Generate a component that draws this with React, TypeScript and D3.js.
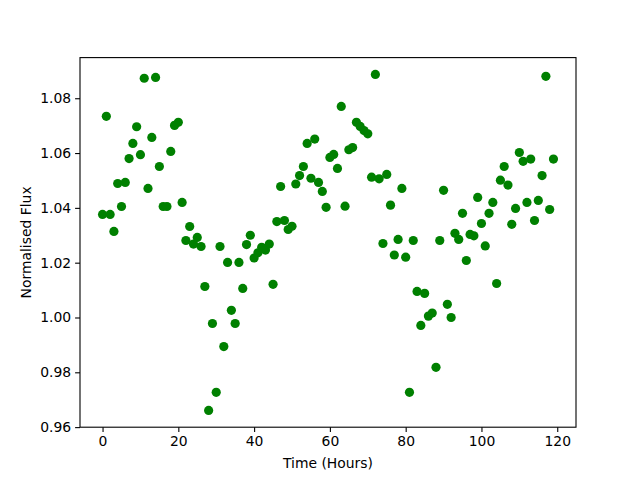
import { useEffect, useRef } from "react";
import * as d3 from "d3";

// hourly samples, 0..119
const hours = d3.range(0, 120);

const flux = [
  1.0376, 1.0734, 1.0376, 1.0314, 1.0489, 1.0405, 1.0493, 1.058, 1.0635, 1.0696,
  1.0594, 1.0873, 1.0471, 1.0657, 1.0876, 1.0551, 1.0405, 1.0405, 1.0606, 1.0701,
  1.0712, 1.042, 1.0281, 1.0332, 1.0268, 1.0292, 1.0259, 1.0113, 0.9661, 0.9978,
  0.9727, 1.0259, 0.9894, 1.0201, 1.0026, 0.9978, 1.0201, 1.0106, 1.0266, 1.03,
  1.0217, 1.0236, 1.0256, 1.0246, 1.0268, 1.0121, 1.035, 1.0478, 1.0354, 1.0321,
  1.0333, 1.0487, 1.0518, 1.0551, 1.0635, 1.0508, 1.0651, 1.0493, 1.046, 1.0402,
  1.0584, 1.0595, 1.0544, 1.077, 1.0406, 1.0612, 1.062, 1.0712, 1.0697, 1.0682,
  1.067, 1.0512, 1.0887, 1.0506, 1.027, 1.0522, 1.041, 1.0228, 1.0285, 1.0471,
  1.022, 0.9727, 1.0281, 1.0095, 0.9971, 1.0088, 1.0005, 1.0016, 0.9818, 1.0281,
  1.0464, 1.0048, 1.0, 1.0307, 1.0285, 1.038, 1.0208, 1.0303, 1.0298, 1.0438,
  1.0343, 1.0261, 1.038, 1.042, 1.0124, 1.0501, 1.0551, 1.0483, 1.034, 1.0398,
  1.0602, 1.057, 1.042, 1.0578, 1.0354, 1.0427, 1.0518, 1.088, 1.0394, 1.0578,
];

const xTicks = [0, 20, 40, 60, 80, 100, 120];
const yTicks = [0.96, 0.98, 1.0, 1.02, 1.04, 1.06, 1.08];

const width = 640;
const height = 480;
const margin = { top: 57.6, right: 64, bottom: 52.8, left: 80 };

// matplotlib-like 5% padding on the data range
function padded(ext: [number, number]): [number, number] {
  const pad = (ext[1] - ext[0]) * 0.05;
  return [ext[0] - pad, ext[1] + pad];
}

export default function App() {
  const svgRef = useRef<SVGSVGElement>(null);

  useEffect(() => {
    if (!svgRef.current) return;
    const svg = d3.select(svgRef.current);
    svg.selectAll("*").remove();

    const innerW = width - margin.left - margin.right;
    const innerH = height - margin.top - margin.bottom;

    const x = d3
      .scaleLinear()
      .domain(padded(d3.extent(hours) as [number, number]))
      .range([margin.left, margin.left + innerW]);
    const y = d3
      .scaleLinear()
      .domain(padded(d3.extent(flux) as [number, number]))
      .range([margin.top + innerH, margin.top]);

    const font = "DejaVu Sans, sans-serif";

    // points
    svg
      .append("g")
      .selectAll("circle")
      .data(hours)
      .join("circle")
      .attr("cx", (d) => x(d))
      .attr("cy", (d, i) => y(flux[i]))
      .attr("r", 4.6)
      .attr("fill", "#008000");

    // axes
    const xAxis = svg
      .append("g")
      .attr("transform", `translate(0,${margin.top + innerH})`)
      .call(d3.axisBottom(x).tickValues(xTicks).tickSize(4.9).tickPadding(4).tickFormat(d3.format("d")));
    const yAxis = svg
      .append("g")
      .attr("transform", `translate(${margin.left},0)`)
      .call(d3.axisLeft(y).tickValues(yTicks).tickSize(4.9).tickPadding(4).tickFormat(d3.format(".2f")));

    for (const ax of [xAxis, yAxis]) {
      ax.select(".domain").remove();
      ax.selectAll("line").attr("stroke", "#000").attr("stroke-width", 1.1);
      ax.selectAll("text")
        .attr("fill", "#000")
        .style("font-family", font)
        .style("font-size", "13.9px");
    }

    // frame
    svg
      .append("rect")
      .attr("x", margin.left)
      .attr("y", margin.top)
      .attr("width", innerW)
      .attr("height", innerH)
      .attr("fill", "none")
      .attr("stroke", "#000")
      .attr("stroke-width", 1.1);

    svg
      .append("text")
      .attr("x", margin.left + innerW / 2)
      .attr("y", 468)
      .attr("text-anchor", "middle")
      .style("font-family", font)
      .style("font-size", "13.9px")
      .text("Time (Hours)");

    svg
      .append("text")
      .attr("transform", `translate(31,${margin.top + innerH / 2}) rotate(-90)`)
      .attr("text-anchor", "middle")
      .style("font-family", font)
      .style("font-size", "13.9px")
      .text("Normalised Flux");
  }, []);

  return (
    <svg
      ref={svgRef}
      width={width}
      height={height}
      style={{ position: "absolute", left: 0, top: 0, background: "#fff" }}
    />
  );
}
